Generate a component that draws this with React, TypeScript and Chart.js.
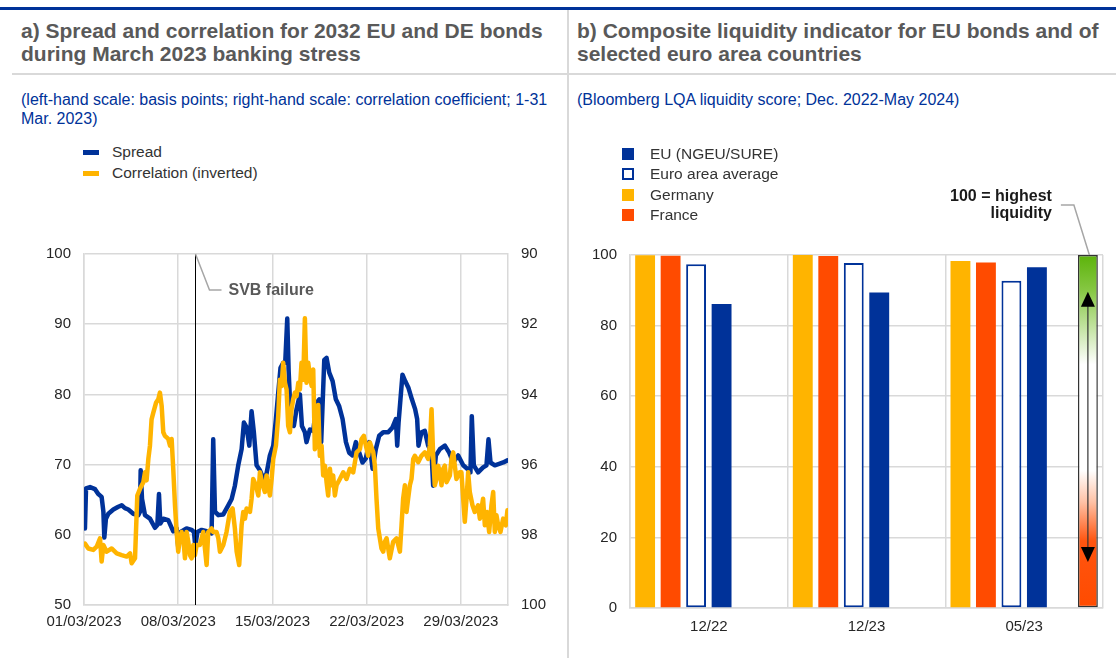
import React, { useEffect, useRef } from 'react';
import { Chart, registerables } from 'chart.js';

Chart.register(...registerables);

const FONT = '"Liberation Sans", Arial, sans-serif';

// ---------- Panel a data ----------
// [day since 01/03/2023, spread in basis points]
const spreadSeries: [number, number][] = [
  [0.07, 60.9], [0.15, 66.6], [0.45, 66.8], [0.82, 66.5], [1.06, 65.8], [1.31, 65.4], [1.44, 63.3], [1.51, 59.6],
  [1.63, 62.3], [1.81, 63.0], [2.18, 63.6], [2.55, 64.0], [2.80, 64.2], [3.04, 63.8], [3.29, 63.6], [3.66, 63.0],
  [4.03, 62.8], [4.16, 63.3], [4.21, 69.2], [4.31, 65.1], [4.53, 62.8], [4.90, 62.3], [5.27, 61.0], [5.45, 61.4],
  [5.57, 65.8], [5.67, 61.6], [5.89, 62.3], [6.26, 62.1], [6.63, 60.5], [6.88, 60.9], [7.00, 58.3], [7.18, 60.4],
  [7.62, 60.9], [8.00, 60.7], [8.17, 60.4], [8.27, 58.3], [8.42, 60.4], [8.74, 60.7], [9.11, 60.5], [9.48, 60.2],
  [9.60, 73.6], [9.73, 63.3], [9.98, 62.8], [10.35, 62.9], [10.72, 64.2], [10.97, 65.1], [11.21, 67.0], [11.46, 69.9],
  [11.71, 72.2], [11.88, 76.0], [12.08, 75.3], [12.28, 72.7], [12.45, 77.6], [12.62, 74.6], [12.82, 69.9], [13.07, 69.2],
  [13.32, 68.0], [13.56, 68.7], [13.81, 71.3], [14.06, 72.7], [14.26, 76.5], [14.43, 80.2], [14.60, 83.8], [14.80, 84.5],
  [14.95, 84.5], [15.10, 90.8], [15.20, 83.5], [15.35, 76.9], [15.59, 75.5], [15.79, 77.9], [16.04, 80.0], [16.19, 75.5],
  [16.41, 74.6], [16.53, 73.2], [16.78, 75.0], [17.03, 74.8], [17.28, 78.8], [17.48, 79.3], [17.62, 73.2], [17.85, 84.9],
  [18.02, 85.2], [18.22, 83.1], [18.47, 81.9], [18.71, 79.3], [18.96, 78.3], [19.21, 76.5], [19.46, 73.2], [19.70, 71.7],
  [19.95, 71.3], [20.20, 73.2], [20.45, 71.7], [20.69, 70.3], [20.94, 70.9], [21.19, 73.2], [21.44, 69.4], [21.68, 72.2],
  [21.93, 74.1], [22.23, 74.6], [22.60, 74.6], [22.92, 75.3], [23.17, 76.5], [23.27, 72.7], [23.37, 76.0], [23.51, 79.3],
  [23.66, 82.8], [23.86, 81.9], [24.11, 80.9], [24.36, 79.3], [24.60, 77.9], [24.75, 76.5], [24.85, 72.7], [25.07, 74.6],
  [25.32, 74.8], [25.57, 72.7], [25.82, 71.7], [25.94, 67.0], [26.14, 71.3], [26.44, 72.2], [26.81, 72.7], [27.13, 71.7],
  [27.43, 70.3], [27.80, 71.3], [28.17, 69.9], [28.47, 69.4], [28.71, 68.9], [28.81, 76.9], [28.96, 69.9], [29.28, 68.9],
  [29.65, 69.6], [29.90, 69.9], [30.05, 73.6], [30.20, 70.3], [30.52, 69.9], [30.84, 70.1], [31.14, 70.3], [31.46, 70.6],
];

// [day since 01/03/2023, correlation coefficient (inverted axis)]
const correlationSeries: [number, number][] = [
  [0.07, 98.25], [0.32, 98.39], [0.69, 98.43], [0.94, 98.34], [1.19, 98.10], [1.31, 98.76], [1.44, 98.29], [1.68, 98.48],
  [2.05, 98.39], [2.43, 98.53], [2.80, 98.58], [3.17, 98.62], [3.42, 98.53], [3.54, 98.81], [3.79, 98.67], [3.96, 96.88],
  [4.16, 96.69], [4.41, 96.50], [4.53, 96.22], [4.65, 96.45], [4.78, 95.84], [4.90, 95.46], [5.02, 94.71], [5.15, 94.52],
  [5.35, 94.24], [5.52, 94.14], [5.64, 93.95], [5.77, 94.33], [5.89, 95.08], [6.01, 95.18], [6.26, 95.27], [6.39, 95.46],
  [6.51, 95.27], [6.63, 96.12], [6.76, 97.16], [6.88, 97.92], [7.00, 98.48], [7.13, 98.10], [7.25, 97.92], [7.38, 98.10],
  [7.50, 98.67], [7.62, 97.92], [7.75, 98.20], [7.87, 98.58], [8.00, 98.67], [8.12, 98.29], [8.24, 98.58], [8.37, 98.29],
  [8.61, 98.29], [8.86, 97.92], [9.11, 98.86], [9.23, 97.92], [9.48, 97.82], [9.60, 97.92], [9.85, 97.92], [9.98, 98.10],
  [10.10, 98.48], [10.35, 98.29], [10.59, 97.92], [10.84, 97.35], [11.04, 97.25], [11.21, 97.82], [11.34, 98.48], [11.53, 98.86],
  [11.71, 97.73], [11.83, 97.35], [11.96, 97.54], [12.08, 97.25], [12.33, 97.35], [12.45, 96.97], [12.57, 96.41], [12.77, 96.59],
  [12.95, 96.88], [13.07, 96.22], [13.27, 96.59], [13.44, 96.78], [13.56, 96.31], [13.81, 96.88], [13.94, 96.41], [14.06, 95.84],
  [14.26, 95.46], [14.43, 94.61], [14.55, 93.58], [14.68, 93.76], [14.80, 93.10], [14.93, 93.67], [15.05, 93.86], [15.17, 94.90],
  [15.30, 95.08], [15.42, 94.42], [15.54, 94.14], [15.67, 93.95], [15.79, 94.05], [15.92, 93.67], [16.04, 93.86], [16.16, 93.10],
  [16.29, 93.58], [16.41, 91.83], [16.53, 93.67], [16.66, 93.10], [16.78, 93.48], [16.91, 93.76], [17.03, 93.29], [17.15, 95.56],
  [17.28, 95.37], [17.40, 94.30], [17.52, 95.75], [17.65, 95.46], [17.77, 96.31], [17.90, 96.03], [18.02, 96.50], [18.14, 96.88],
  [18.27, 96.12], [18.39, 96.59], [18.51, 96.31], [18.64, 96.88], [18.76, 96.59], [19.01, 96.41], [19.26, 96.22], [19.50, 96.41],
  [19.75, 96.12], [20.00, 96.22], [20.25, 95.65], [20.50, 95.56], [20.62, 95.27], [20.79, 95.18], [20.94, 95.46], [21.11, 95.75],
  [21.24, 95.37], [21.49, 95.65], [21.61, 96.03], [21.73, 96.97], [21.86, 97.82], [21.98, 98.10], [22.10, 98.39], [22.23, 98.48],
  [22.35, 98.20], [22.48, 98.10], [22.60, 98.39], [22.72, 98.67], [22.97, 98.20], [23.22, 98.10], [23.47, 98.48], [23.59, 97.73],
  [23.71, 96.97], [23.84, 96.59], [23.96, 97.35], [24.08, 96.97], [24.21, 96.59], [24.33, 96.41], [24.46, 95.84], [24.58, 95.75],
  [24.83, 95.93], [25.07, 95.75], [25.32, 95.65], [25.57, 95.84], [25.69, 95.46], [25.82, 94.42], [25.94, 95.75], [26.06, 96.59],
  [26.19, 96.41], [26.31, 96.03], [26.44, 96.22], [26.56, 96.59], [26.68, 96.12], [26.81, 96.03], [26.93, 96.50], [27.18, 96.31],
  [27.30, 95.84], [27.43, 95.65], [27.55, 96.03], [27.67, 96.41], [27.92, 96.22], [28.04, 96.22], [28.17, 96.97], [28.29, 97.63],
  [28.42, 96.97], [28.54, 96.22], [28.66, 96.78], [28.86, 97.16], [29.03, 97.35], [29.28, 97.16], [29.41, 97.54], [29.65, 96.97],
  [29.78, 97.73], [29.95, 97.35], [30.10, 97.92], [30.27, 97.16], [30.40, 96.78], [30.52, 97.92], [30.64, 97.44], [30.77, 97.73],
  [30.94, 97.92], [31.14, 97.54], [31.34, 97.73], [31.46, 97.30],
];

const xTickDays = [0, 7, 14, 21, 28];
const xTickLabels = ['01/03/2023', '08/03/2023', '15/03/2023', '22/03/2023', '29/03/2023'];
const xMaxDay = 31.5;
const svbDay = 8.25;
const svbLabel = 'SVB failure';

// ---------- Panel b data ----------
const barCategories = ['12/22', '12/23', '05/23'];
const germany = [99.9, 100, 98.3];
const france = [99.8, 99.7, 97.9];
const euroAreaAverage = [97.4, 97.7, 92.7];
const euNgeuSure = [86.1, 89.4, 96.5];
const emptySlot = [null, null, null];
const liquidityScale = [null, null, 100];
const arrowTopValue = 89.6;
const arrowBottomValue = 13;
const scaleNote = ['100 = highest', 'liquidity'];

const BLUE = '#003299';
const YELLOW = '#FFB400';
const RED = '#FF4B00';
const GRID = '#d9d9d9';
const TICK = '#262626';

const svbPlugin = {
  id: 'svbPlugin',
  afterDatasetsDraw(chart: any) {
    const { ctx, chartArea, scales } = chart;
    const x = Math.round(scales.x.getPixelForValue(svbDay)) + 0.5;
    ctx.save();
    ctx.strokeStyle = '#000';
    ctx.lineWidth = 1;
    ctx.beginPath();
    ctx.moveTo(x, chartArea.top);
    ctx.lineTo(x, chartArea.bottom);
    ctx.stroke();
    ctx.strokeStyle = '#a6a6a6';
    ctx.lineWidth = 1.5;
    ctx.beginPath();
    ctx.moveTo(x, chartArea.top);
    ctx.lineTo(x + 14, chartArea.top + 36);
    ctx.lineTo(x + 26, chartArea.top + 36);
    ctx.stroke();
    ctx.fillStyle = '#595959';
    ctx.font = 'bold 16px ' + FONT;
    ctx.textBaseline = 'middle';
    ctx.textAlign = 'left';
    ctx.fillText(svbLabel, x + 33, chartArea.top + 37);
    ctx.restore();
  },
};

const scalePlugin = {
  id: 'scalePlugin',
  afterDatasetsDraw(chart: any) {
    const meta = chart.getDatasetMeta(5);
    const el = meta && meta.data && meta.data[2];
    if (!el) return;
    const { ctx } = chart;
    const ys = chart.scales.y;
    const x = el.x;
    const yTop = ys.getPixelForValue(arrowTopValue);
    const yBot = ys.getPixelForValue(arrowBottomValue);
    ctx.save();
    ctx.strokeStyle = '#333';
    ctx.lineWidth = 1.2;
    ctx.beginPath();
    ctx.moveTo(x, yTop + 10);
    ctx.lineTo(x, yBot - 10);
    ctx.stroke();
    ctx.fillStyle = '#000';
    ctx.beginPath();
    ctx.moveTo(x, yTop);
    ctx.lineTo(x - 7, yTop + 15);
    ctx.lineTo(x + 7, yTop + 15);
    ctx.closePath();
    ctx.fill();
    ctx.beginPath();
    ctx.moveTo(x, yBot);
    ctx.lineTo(x - 7, yBot - 15);
    ctx.lineTo(x + 7, yBot - 15);
    ctx.closePath();
    ctx.fill();
    const top = el.y;
    ctx.strokeStyle = '#a6a6a6';
    ctx.lineWidth = 1.5;
    ctx.beginPath();
    ctx.moveTo(x + 1.5, top);
    ctx.lineTo(x - 14, top - 50);
    ctx.lineTo(x - 27, top - 50);
    ctx.stroke();
    ctx.fillStyle = '#1a1a1a';
    ctx.font = 'bold 16px ' + FONT;
    ctx.textAlign = 'right';
    ctx.textBaseline = 'middle';
    ctx.fillText(scaleNote[0], x - 36, top - 58);
    ctx.fillText(scaleNote[1], x - 36, top - 41);
    ctx.restore();
  },
};

export default function App() {
  const leftRef = useRef<HTMLCanvasElement>(null);
  const rightRef = useRef<HTMLCanvasElement>(null);

  useEffect(() => {
    const tickFont = { family: FONT, size: 15 };
    const left = new Chart(leftRef.current as HTMLCanvasElement, {
      type: 'line',
      data: {
        datasets: [
          {
            label: 'Spread',
            data: spreadSeries.map(([d, v]) => ({ x: d, y: v })),
            borderColor: BLUE,
            backgroundColor: BLUE,
            borderWidth: 4.5,
            borderJoinStyle: 'round',
            borderCapStyle: 'round',
            pointRadius: 0,
            tension: 0,
            yAxisID: 'y',
            order: 2,
          },
          {
            label: 'Correlation (inverted)',
            data: correlationSeries.map(([d, v]) => ({ x: d, y: v })),
            borderColor: YELLOW,
            backgroundColor: YELLOW,
            borderWidth: 4.5,
            borderJoinStyle: 'round',
            borderCapStyle: 'round',
            pointRadius: 0,
            tension: 0,
            yAxisID: 'y1',
            order: 1,
          },
        ],
      },
      options: {
        animation: false,
        responsive: false,
        maintainAspectRatio: false,
        layout: { padding: { top: 24, left: 0, right: 0, bottom: 0 } },
        plugins: { legend: { display: false }, tooltip: { enabled: false } },
        scales: {
          x: {
            type: 'linear',
            min: 0,
            max: xMaxDay,
            afterBuildTicks: (s: any) => {
              s.ticks = xTickDays.map((v) => ({ value: v }));
            },
            ticks: {
              callback: (v: any) => {
                const i = xTickDays.indexOf(Number(v));
                return i >= 0 ? xTickLabels[i] : '';
              },
              autoSkip: false,
              maxRotation: 0,
              padding: 8,
              font: tickFont,
              color: TICK,
            },
            grid: { color: GRID, lineWidth: 1.5, drawTicks: false },
            border: { color: GRID, width: 1.5 },
            afterFit: (s: any) => {
              s.height = 45;
            },
          },
          y: {
            position: 'left',
            min: 50,
            max: 100,
            ticks: { stepSize: 10, padding: 13, font: tickFont, color: TICK },
            grid: { color: GRID, lineWidth: 1.5, drawTicks: false },
            border: { color: GRID, width: 1.5 },
            afterFit: (s: any) => {
              s.width = 84;
            },
          },
          y1: {
            position: 'right',
            min: 90,
            max: 100,
            reverse: true,
            ticks: { stepSize: 2, padding: 13, font: tickFont, color: TICK },
            grid: { display: false, drawTicks: false },
            border: { color: GRID, width: 1.5 },
            afterFit: (s: any) => {
              s.width = 57;
            },
          },
        },
      } as any,
      plugins: [svbPlugin],
    });

    const gradientFill = (c: any) => {
      const chart = c.chart;
      const area = chart.chartArea;
      if (!area) return '#ffffff';
      const g = chart.ctx.createLinearGradient(0, area.top, 0, area.bottom);
      g.addColorStop(0, '#5cb30a');
      g.addColorStop(0.1, '#86c743');
      g.addColorStop(0.31, '#ffffff');
      g.addColorStop(0.61, '#ffffff');
      g.addColorStop(0.7, '#ffc2a6');
      g.addColorStop(0.81, '#ff5510');
      g.addColorStop(1, '#ff4b00');
      return g;
    };

    const right = new Chart(rightRef.current as HTMLCanvasElement, {
      type: 'bar',
      data: {
        labels: barCategories,
        datasets: [
          { label: 'Germany', data: germany, backgroundColor: YELLOW, borderWidth: 0 },
          { label: 'France', data: france, backgroundColor: RED, borderWidth: 0 },
          {
            label: 'Euro area average',
            data: euroAreaAverage,
            backgroundColor: '#ffffff',
            borderColor: BLUE,
            borderWidth: 2,
            borderSkipped: false,
          },
          { label: 'EU (NGEU/SURE)', data: euNgeuSure, backgroundColor: BLUE, borderWidth: 0 },
          { label: '', data: emptySlot, backgroundColor: 'rgba(0,0,0,0)' },
          {
            label: 'Liquidity scale',
            data: liquidityScale,
            backgroundColor: gradientFill,
            borderColor: '#333333',
            borderWidth: 1.5,
            borderSkipped: false,
          },
        ],
      },
      options: {
        animation: false,
        responsive: false,
        maintainAspectRatio: false,
        datasets: { bar: { categoryPercentage: 0.97, barPercentage: 0.78 } },
        layout: { padding: { top: 115, left: 0, right: 13, bottom: 0 } },
        plugins: { legend: { display: false }, tooltip: { enabled: false } },
        scales: {
          x: {
            ticks: { padding: 10, font: tickFont, color: TICK, maxRotation: 0 },
            grid: { color: GRID, lineWidth: 1.5, drawTicks: false, offset: true },
            border: { color: GRID, width: 1.5 },
            afterFit: (s: any) => {
              s.height = 42;
            },
          },
          y: {
            min: 0,
            max: 100,
            ticks: { stepSize: 20, padding: 13, font: tickFont, color: TICK },
            grid: { color: GRID, lineWidth: 1.5, drawTicks: false },
            border: { color: GRID, width: 1.5 },
            afterFit: (s: any) => {
              s.width = 60;
            },
          },
        },
      } as any,
      plugins: [scalePlugin],
    });

    return () => {
      left.destroy();
      right.destroy();
    };
  }, []);

  const abs = (o: React.CSSProperties): React.CSSProperties => ({ position: 'absolute', ...o });
  const titleStyle: React.CSSProperties = {
    fontSize: 21,
    fontWeight: 'bold',
    lineHeight: '23px',
    color: '#595959',
    whiteSpace: 'nowrap',
  };
  const subStyle: React.CSSProperties = {
    fontSize: 16,
    lineHeight: '19px',
    color: BLUE,
    whiteSpace: 'nowrap',
  };
  const legText: React.CSSProperties = {
    fontSize: 15.5,
    lineHeight: '18px',
    color: '#333',
    whiteSpace: 'nowrap',
  };

  return (
    <div
      style={abs({
        left: 0,
        top: 0,
        width: 1116,
        height: 658,
        background: '#fff',
        fontFamily: FONT,
        overflow: 'hidden',
      })}
    >
      <div style={abs({ left: 0, top: 7, width: 1116, height: 3, background: BLUE })} />
      <div style={abs({ left: 567, top: 10, width: 2, height: 648, background: GRID })} />
      <div style={abs({ left: 12, top: 73, width: 1104, height: 2, background: GRID })} />

      <div style={abs({ left: 21, top: 19, ...titleStyle })}>
        a) Spread and correlation for 2032 EU and DE bonds
        <br />
        during March 2023 banking stress
      </div>
      <div style={abs({ left: 577, top: 19, ...titleStyle })}>
        b) Composite liquidity indicator for EU bonds and of
        <br />
        selected euro area countries
      </div>
      <div style={abs({ left: 21, top: 90, ...subStyle })}>
        (left-hand scale: basis points; right-hand scale: correlation coefficient; 1-31
        <br />
        Mar. 2023)
      </div>
      <div style={abs({ left: 577, top: 90, ...subStyle })}>
        (Bloomberg LQA liquidity score; Dec. 2022-May 2024)
      </div>

      <canvas
        ref={leftRef}
        width={565}
        height={420}
        style={abs({ left: 0, top: 230, width: 565, height: 420 })}
      />
      <canvas
        ref={rightRef}
        width={546}
        height={510}
        style={abs({ left: 570, top: 140, width: 546, height: 510 })}
      />

      {/* Panel a legend */}
      <div style={abs({ left: 83, top: 150, width: 16, height: 5, background: BLUE })} />
      <div style={abs({ left: 112, top: 143, ...legText })}>Spread</div>
      <div style={abs({ left: 83, top: 171, width: 16, height: 5, background: YELLOW })} />
      <div style={abs({ left: 112, top: 164, ...legText })}>Correlation (inverted)</div>

      {/* Panel b legend */}
      <div style={abs({ left: 622, top: 148, width: 12, height: 12, background: BLUE })} />
      <div style={abs({ left: 650, top: 144.5, ...legText })}>EU (NGEU/SURE)</div>
      <div
        style={abs({
          left: 622,
          top: 168,
          width: 12,
          height: 12,
          boxSizing: 'border-box',
          border: '2px solid ' + BLUE,
          background: '#fff',
        })}
      />
      <div style={abs({ left: 650, top: 165, ...legText })}>Euro area average</div>
      <div style={abs({ left: 622, top: 188.5, width: 12, height: 12, background: YELLOW })} />
      <div style={abs({ left: 650, top: 185.5, ...legText })}>Germany</div>
      <div style={abs({ left: 622, top: 209, width: 12, height: 12, background: RED })} />
      <div style={abs({ left: 650, top: 206, ...legText })}>France</div>
    </div>
  );
}
